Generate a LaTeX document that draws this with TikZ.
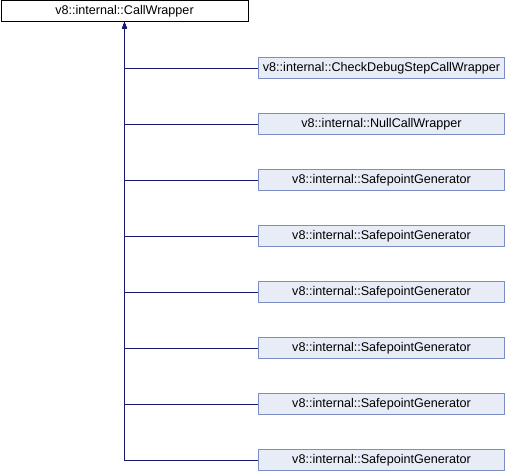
\documentclass[tikz,border=0pt]{standalone}
\usepackage{fontspec}
\setmainfont{Liberation Sans}
\usetikzlibrary{arrows.meta}
\definecolor{edgeblue}{HTML}{191970}
\definecolor{boxfill}{HTML}{E8ECF6}
\definecolor{boxline}{HTML}{7C8DC6}

\begin{document}
\begin{tikzpicture}[x=1pt, y=-1pt,
  base/.style={draw=black, fill=white, minimum width=247pt, minimum height=21pt, inner sep=0pt, font=\fontsize{12.6}{14}\selectfont},
  derived/.style={draw=boxline, fill=boxfill, minimum width=246pt, minimum height=21pt, inner sep=0pt, font=\fontsize{12.6}{14}\selectfont},
  conn/.style={draw=edgeblue, {Latex[length=7pt, width=5pt]}-}]

\useasboundingbox (0,0) rectangle (508,472);

%Base class
\node[base] (wrapper) at (124.5, 11) {v8::internal::CallWrapper};

%Derived classes
\node[derived] (check) at (381.5, 68) {v8::internal::CheckDebugStepCallWrapper};
\node[derived] (null) at (381.5, 124) {v8::internal::NullCallWrapper};
\node[derived] (sp1) at (381.5, 180) {v8::internal::SafepointGenerator};
\node[derived] (sp2) at (381.5, 236) {v8::internal::SafepointGenerator};
\node[derived] (sp3) at (381.5, 292) {v8::internal::SafepointGenerator};
\node[derived] (sp4) at (381.5, 348) {v8::internal::SafepointGenerator};
\node[derived] (sp5) at (381.5, 404) {v8::internal::SafepointGenerator};
\node[derived] (sp6) at (381.5, 460) {v8::internal::SafepointGenerator};

% Inheritance
\foreach \to in {check, null, sp1, sp2, sp3, sp4, sp5, sp6}
\draw [conn] (wrapper.south) |- (\to.west);

\end{tikzpicture}
\end{document}
